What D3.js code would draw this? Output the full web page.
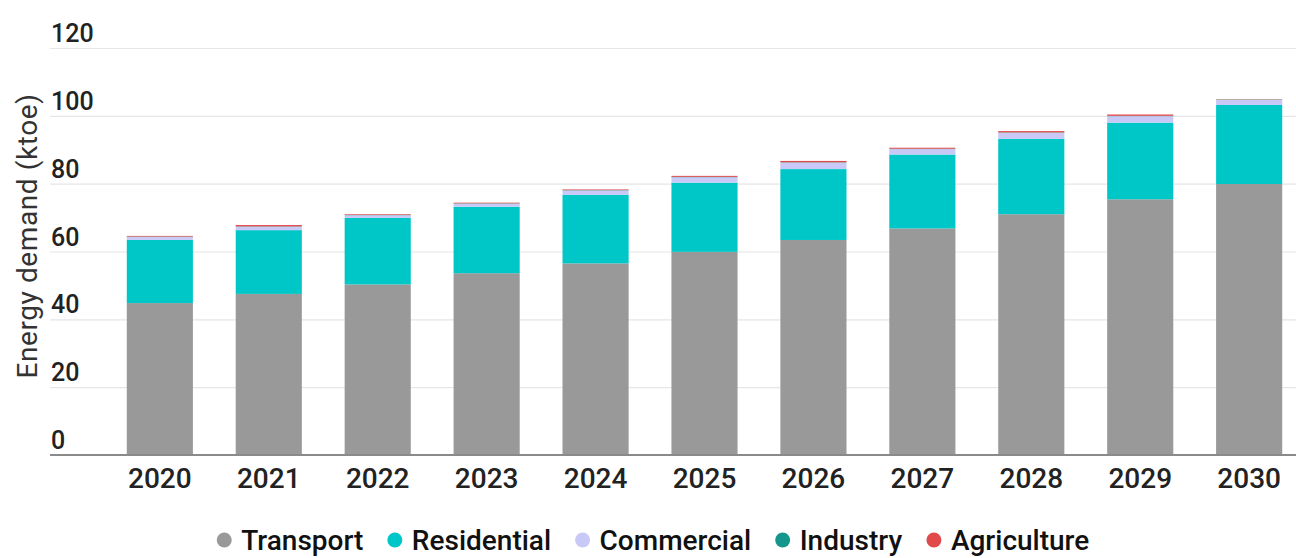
<!DOCTYPE html>
<html>
<head>
<meta charset="utf-8">
<script src="https://cdn.jsdelivr.net/npm/d3@7"></script>
<style>
  html, body { margin: 0; padding: 0; background: #ffffff; }
  svg { display: block; font-family: Roboto, "Noto Sans", sans-serif; }
</style>
</head>
<body>
<svg id="chart" width="1296" height="558"></svg>
<script>
// Energy demand by sector, ktoe
const years = ["2020", "2021", "2022", "2023", "2024", "2025", "2026", "2027", "2028", "2029", "2030"];
const transport   = [44.8, 47.5, 50.3, 53.6, 56.5, 59.9, 63.4, 66.8, 71.0, 75.4, 79.9];
const residential = [18.6, 18.8, 19.6, 19.6, 20.2, 20.4, 20.9, 21.8, 22.2, 22.6, 23.3];
const commercial  = [0.9, 1.0, 0.8, 0.9, 1.3, 1.6, 1.9, 1.6, 1.8, 1.9, 1.5];
const industry    = [0.1, 0.1, 0.1, 0.1, 0.1, 0.1, 0.1, 0.1, 0.1, 0.1, 0.1];
const agriculture = [0.2, 0.4, 0.2, 0.2, 0.2, 0.3, 0.4, 0.3, 0.4, 0.4, 0.1];
const yTicks = [0, 20, 40, 60, 80, 100, 120];

const sectors = [
  { key: "Transport",   values: transport,   color: "#999999" },
  { key: "Residential", values: residential, color: "#00c7c7" },
  { key: "Commercial",  values: commercial,  color: "#c9c9f7" },
  { key: "Industry",    values: industry,    color: "#14968c" },
  { key: "Agriculture", values: agriculture, color: "#e04a4a" }
];

const rows = years.map((yr, i) => {
  const r = { year: yr };
  sectors.forEach(s => { r[s.key] = s.values[i]; });
  return r;
});

const svg = d3.select("#chart");

const gridLeft = 50, gridRight = 1296;
const y = d3.scaleLinear().domain([0, 120]).range([455, 48]);
const x = d3.scaleBand().domain(years).range([105, 1304]).paddingInner(0.393).paddingOuter(0.2);

// gridlines and value labels
const yAxis = svg.append("g").attr("class", "y-axis");
yAxis.selectAll("line.grid")
  .data(yTicks.filter(t => t !== 0))
  .join("line")
  .attr("class", "grid")
  .attr("x1", gridLeft).attr("x2", gridRight)
  .attr("y1", d => y(d) + 0.5).attr("y2", d => y(d) + 0.5)
  .attr("stroke", "#e6e6e6").attr("stroke-width", 1.2);

yAxis.selectAll("text")
  .data(yTicks)
  .join("text")
  .attr("x", 51)
  .attr("y", d => y(d) - 6)
  .attr("font-size", 25)
  .attr("font-weight", 500)
  .attr("fill", "#222222")
  .text(d => d);

// stacked bars
const stack = d3.stack().keys(sectors.map(s => s.key));
const layers = stack(rows);

svg.append("g").attr("class", "bars")
  .selectAll("g")
  .data(layers)
  .join("g")
  .attr("fill", (d, i) => sectors[i].color)
  .selectAll("rect")
  .data(d => d)
  .join("rect")
  .attr("x", d => x(d.data.year))
  .attr("width", x.bandwidth())
  .attr("y", d => y(d[1]))
  .attr("height", d => y(d[0]) - y(d[1]));

// baseline
svg.append("line")
  .attr("x1", gridLeft).attr("x2", gridRight)
  .attr("y1", y(0)).attr("y2", y(0))
  .attr("stroke", "#8a8a8a").attr("stroke-width", 2);

// year labels
const xAxis = d3.axisBottom(x).tickSize(0).tickPadding(0);
const xg = svg.append("g").attr("transform", `translate(0, ${y(0)})`).call(xAxis);
xg.select(".domain").remove();
xg.selectAll("text")
  .attr("dy", null)
  .attr("y", 33)
  .attr("font-size", 28)
  .attr("font-weight", 500)
  .attr("font-family", "Roboto, sans-serif")
  .attr("fill", "#222222");

// axis title
svg.append("text")
  .attr("transform", "translate(27, 236) rotate(-90)")
  .attr("text-anchor", "middle")
  .attr("dominant-baseline", "central")
  .attr("font-size", 28)
  .attr("letter-spacing", 0.6)
  .attr("fill", "#333333")
  .text("Energy demand (ktoe)");

// legend
const legend = svg.append("g").attr("class", "legend");
const items = legend.selectAll("g")
  .data(sectors)
  .join("g");
items.append("circle")
  .attr("r", 7.5)
  .attr("cy", 0)
  .attr("fill", d => d.color);
items.append("text")
  .attr("x", 17)
  .attr("y", 10)
  .attr("font-size", 28)
  .attr("font-weight", 500)
  .attr("fill", "#111111")
  .text(d => d.key);

const gap = 24;
let cursor = 0;
const offsets = [];
items.each(function () {
  const w = this.getBBox().width;
  offsets.push(cursor);
  cursor += w + gap;
});
const totalW = cursor - gap;
const legendStart = 653 - totalW / 2 + 7.5;
items.attr("transform", (d, i) => `translate(${legendStart + offsets[i]}, 540)`);
</script>
</body>
</html>
